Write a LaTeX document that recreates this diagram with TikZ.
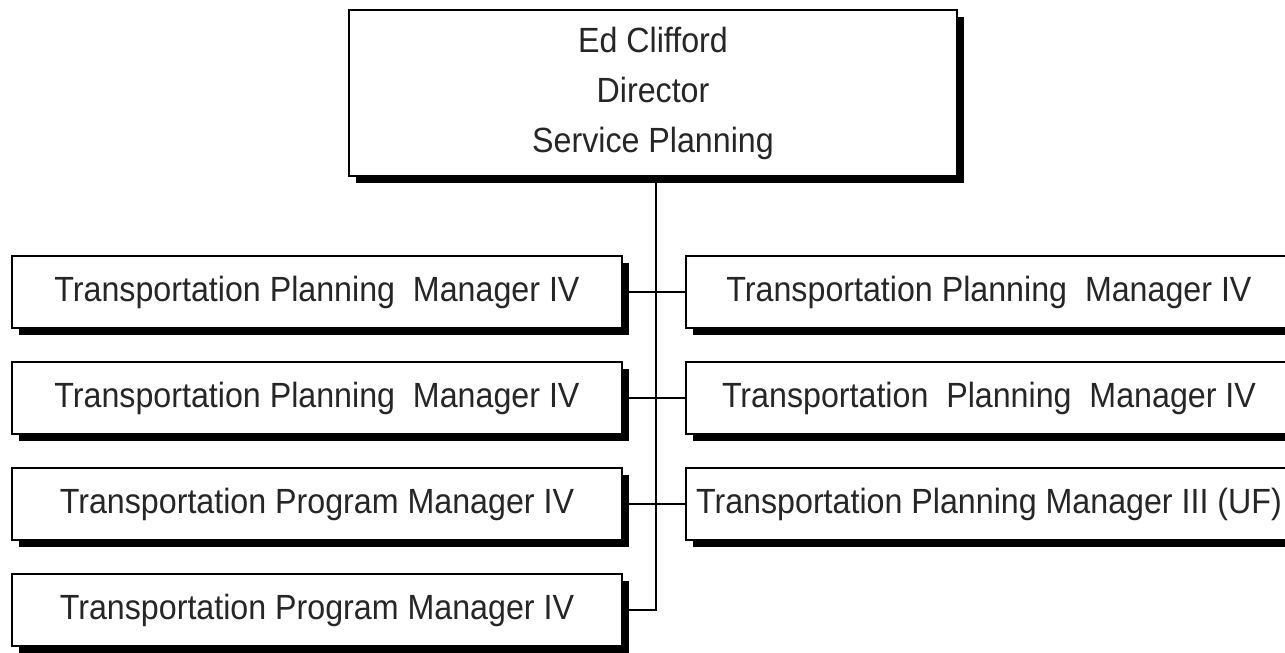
\documentclass[tikz,border=0pt]{standalone}
\usepackage{fontspec}
\setmainfont{Liberation Sans}[FakeStretch=0.92]
\usetikzlibrary{shadows}

\begin{document}
\begin{tikzpicture}[x=1pt,y=-1pt,
	post/.style={draw, line width=1.6pt, fill=white, inner sep=0pt, align=center,
		text=black!85, general shadow={fill=black, shadow xshift=7pt, shadow yshift=-7pt},
		font=\fontsize{35}{50}\selectfont},
	leftpost/.style={post, minimum width=610pt, minimum height=72pt},
	rightpost/.style={post, minimum width=606pt, minimum height=72pt},
	link/.style={line width=1.6pt}]
	\useasboundingbox (0,0) rectangle (1285,653);
	\clip (0,0) rectangle (1285,653);

	% Director
	\node [post, minimum width=608pt, minimum height=166pt] (director) at (653,93) {Ed Clifford\\Director\\Service Planning};

	% Left column
	\node [leftpost] (tpm1) at (317,292) {Transportation Planning~ Manager IV};
	\node [leftpost] (tpm2) at (317,398) {Transportation Planning~ Manager IV};
	\node [leftpost] (prog1) at (317,504) {Transportation Program Manager IV};
	\node [leftpost] (prog2) at (317,610) {Transportation Program Manager IV};

	% Right column
	\node [rightpost] (tpm3) at (989,292) {Transportation Planning~ Manager IV};
	\node [rightpost] (tpm4) at (989,398) {Transportation~ Planning~ Manager IV};
	\node [rightpost] (tpm5) at (989,504) {Transportation Planning Manager III (UF)};

	% Connectors
	\coordinate (elbow) at (656,610);
	\draw [link] (director.south -| elbow) -- (elbow) -- (prog2.east);
	\draw [link] (tpm1.east) -- (tpm3.west);
	\draw [link] (tpm2.east) -- (tpm4.west);
	\draw [link] (prog1.east) -- (tpm5.west);
\end{tikzpicture}
\end{document}
